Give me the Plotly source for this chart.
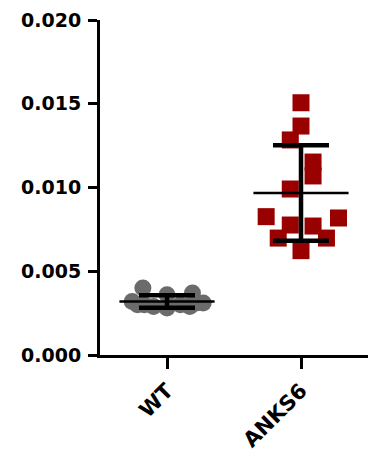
import plotly.graph_objects as go
import numpy as np

categories = ["WT", "ANKS6"]
wt_values = [0.0040, 0.0036, 0.0037, 0.0032, 0.0031, 0.0029, 0.0030, 0.0028, 0.0030, 0.0029, 0.0031, 0.0030]
wt_jitter = [-0.18, 0.0, 0.19, -0.26, 0.27, -0.10, -0.17, 0.0, 0.10, 0.17, 0.22, -0.22]
anks6_values = [0.01506, 0.01367, 0.01284, 0.01152, 0.01069, 0.00991, 0.00826, 0.00818,
                0.00776, 0.00770, 0.00698, 0.00698, 0.00623]
anks6_jitter = [0.0, 0.0, -0.08, 0.09, 0.09, -0.08, -0.26, 0.28, -0.08, 0.09, -0.17, 0.19, 0.0]
y_ticks = [0.000, 0.005, 0.010, 0.015, 0.020]

groups = [wt_values, anks6_values]
means = [float(np.mean(g)) for g in groups]
sds = [float(np.std(g, ddof=1)) for g in groups]

fig = go.Figure()
fig.add_trace(go.Scatter(
    x=[0 + j for j in wt_jitter], y=wt_values, mode="markers",
    marker=dict(symbol="circle", size=17, color="#6b6b6b", line=dict(width=0)),
    showlegend=False, hoverinfo="skip"))
fig.add_trace(go.Scatter(
    x=[1 + j for j in anks6_jitter], y=anks6_values, mode="markers",
    marker=dict(symbol="square", size=17, color="#990000", line=dict(width=0)),
    showlegend=False, hoverinfo="skip"))

# SD error bars
fig.add_trace(go.Scatter(
    x=[0, 1], y=means, mode="markers",
    marker=dict(size=1, color="rgba(0,0,0,0)"),
    error_y=dict(type="data", array=sds, visible=True, color="black", thickness=4.5, width=28),
    showlegend=False, hoverinfo="skip"))

# mean lines
for i, m in enumerate(means):
    fig.add_trace(go.Scatter(
        x=[i - 0.355, i + 0.355], y=[m, m], mode="lines",
        line=dict(color="black", width=2.5), showlegend=False, hoverinfo="skip"))

fig.update_layout(
    width=368, height=452,
    margin=dict(l=100, r=0, t=20, b=97, autoexpand=False),
    plot_bgcolor="white", paper_bgcolor="white",
    font=dict(family="DejaVu Sans", size=20, color="black"),
)
fig.update_xaxes(
    range=[-0.5, 1.5], tickmode="array", tickvals=[0, 1], ticktext=categories,
    tickangle=-45, ticks="outside", ticklen=11, tickwidth=3, tickcolor="black",
    showline=True, linewidth=3, linecolor="black", showgrid=False, zeroline=False,
    tickfont=dict(family="DejaVu Sans", size=21, color="black", weight="bold"),
    ticklabelstandoff=1, automargin=False,
)
fig.update_yaxes(
    range=[0, 0.020], tickmode="array", tickvals=y_ticks,
    ticktext=[f"{v:.3f}" for v in y_ticks],
    ticks="outside", ticklen=9, tickwidth=3, tickcolor="black",
    showline=True, linewidth=3, linecolor="black", showgrid=False, zeroline=False,
    tickfont=dict(family="DejaVu Sans", size=19, color="black", weight="bold"),
    ticklabelstandoff=3, automargin=False,
)

fig.write_html("out.html")
